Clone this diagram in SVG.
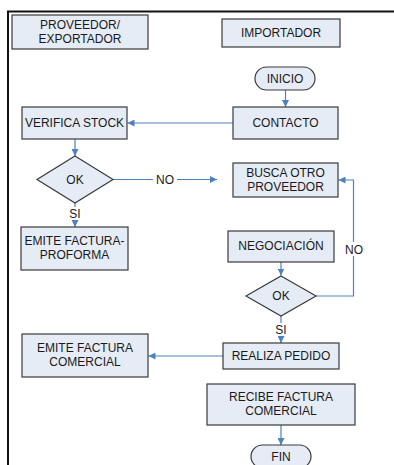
<svg xmlns="http://www.w3.org/2000/svg" width="394" height="465" viewBox="0 0 394 465">
  <style>
    .box { fill: #E6ECF6; stroke: #3a3a3a; stroke-width: 1.2; }
    .lbl { font-family: "Liberation Sans", Arial, sans-serif; font-size: 12px; fill: #1a1a1a; text-anchor: middle; }
    .wire { fill: none; stroke: #4F81BD; stroke-width: 1.2; }
    .frame { fill: none; stroke: #111; stroke-width: 2; }
  </style>
  <defs>
    <marker id="head" viewBox="0 0 10 10" refX="10" refY="5" markerWidth="7" markerHeight="7" markerUnits="userSpaceOnUse" orient="auto">
      <path d="M0,0 L10,5 L0,10 Z" fill="#4F81BD"/>
    </marker>
  </defs>

  <rect width="394" height="465" fill="#ffffff"/>

  <!-- swimlane frame -->
  <path class="frame" d="M8,465 V11.5 H394"/>

  <!-- lane headers -->
  <g id="lane-proveedor">
    <rect class="box" x="12" y="15" width="136" height="34"/>
    <text class="lbl" x="80" y="29">PROVEEDOR/</text>
    <text class="lbl" x="80" y="43">EXPORTADOR</text>
  </g>
  <g id="lane-importador">
    <rect class="box" x="222" y="19" width="118" height="28"/>
    <text class="lbl" x="281" y="37">IMPORTADOR</text>
  </g>

  <!-- connectors -->
  <g id="connectors">
    <path class="wire" marker-end="url(#head)" d="M285.5,90 V107"/>
    <path class="wire" marker-end="url(#head)" d="M233,123 H127.5"/>
    <path class="wire" marker-end="url(#head)" d="M75,139 V156"/>
    <path class="wire" marker-end="url(#head)" d="M113,179.5 H217"/>
    <path class="wire" marker-end="url(#head)" d="M75,202.5 V227"/>
    <path class="wire" marker-end="url(#head)" d="M281,262 V275.5"/>
    <path class="wire" marker-end="url(#head)" d="M316,296 H353.5 V180 H338.5"/>
    <path class="wire" marker-end="url(#head)" d="M281,316 V343"/>
    <path class="wire" marker-end="url(#head)" d="M223,356 H148.5"/>
    <path class="wire" marker-end="url(#head)" d="M281,425 V445"/>
    <!-- branch labels -->
    <rect x="153" y="172" width="24" height="14" fill="#ffffff"/>
    <text class="lbl" x="165" y="184">NO</text>
    <rect x="67" y="207" width="16" height="13" fill="#ffffff"/>
    <text class="lbl" x="75" y="218">SI</text>
    <rect x="342" y="242" width="24" height="14" fill="#ffffff"/>
    <text class="lbl" x="354" y="254">NO</text>
    <rect x="273" y="323" width="16" height="13" fill="#ffffff"/>
    <text class="lbl" x="281" y="334">SI</text>
  </g>

  <!-- importer lane -->
  <g id="inicio">
    <rect class="box" x="255" y="67" width="60" height="23" rx="11.5"/>
    <text class="lbl" x="285" y="83">INICIO</text>
  </g>
  <g id="contacto">
    <rect class="box" x="233" y="107" width="105" height="32"/>
    <text class="lbl" x="285.5" y="127">CONTACTO</text>
  </g>
  <g id="busca-otro-proveedor">
    <rect class="box" x="233" y="163" width="105" height="34"/>
    <text class="lbl" x="285.5" y="177">BUSCA OTRO</text>
    <text class="lbl" x="285.5" y="191">PROVEEDOR</text>
  </g>
  <g id="negociacion">
    <rect class="box" x="228" y="231" width="106" height="31"/>
    <text class="lbl" x="281" y="250">NEGOCIACIÓN</text>
  </g>
  <g id="ok-negociacion">
    <path class="box" d="M281,276 L316,296 L281,316 L246,296 Z"/>
    <text class="lbl" x="281" y="300">OK</text>
  </g>
  <g id="realiza-pedido">
    <rect class="box" x="223" y="343" width="116" height="26"/>
    <text class="lbl" x="281" y="360">REALIZA PEDIDO</text>
  </g>
  <g id="recibe-factura">
    <rect class="box" x="207" y="384" width="148" height="41"/>
    <text class="lbl" x="281" y="401">RECIBE FACTURA</text>
    <text class="lbl" x="281" y="415">COMERCIAL</text>
  </g>
  <g id="fin">
    <rect class="box" x="251" y="445" width="60" height="23" rx="11.5"/>
    <text class="lbl" x="281" y="461">FIN</text>
  </g>

  <!-- exporter lane -->
  <g id="verifica-stock">
    <rect class="box" x="22" y="107" width="105" height="32"/>
    <text class="lbl" x="74.5" y="127">VERIFICA STOCK</text>
  </g>
  <g id="ok-stock">
    <path class="box" d="M75,156 L113,179.5 L75,203 L37,179.5 Z"/>
    <text class="lbl" x="75" y="184">OK</text>
  </g>
  <g id="factura-proforma">
    <rect class="box" x="21" y="227" width="107" height="43"/>
    <text class="lbl" x="74.5" y="245">EMITE FACTURA-</text>
    <text class="lbl" x="74.5" y="259">PROFORMA</text>
  </g>
  <g id="factura-comercial">
    <rect class="box" x="22" y="334" width="126" height="43"/>
    <text class="lbl" x="85" y="352">EMITE FACTURA</text>
    <text class="lbl" x="85" y="366">COMERCIAL</text>
  </g>
</svg>
